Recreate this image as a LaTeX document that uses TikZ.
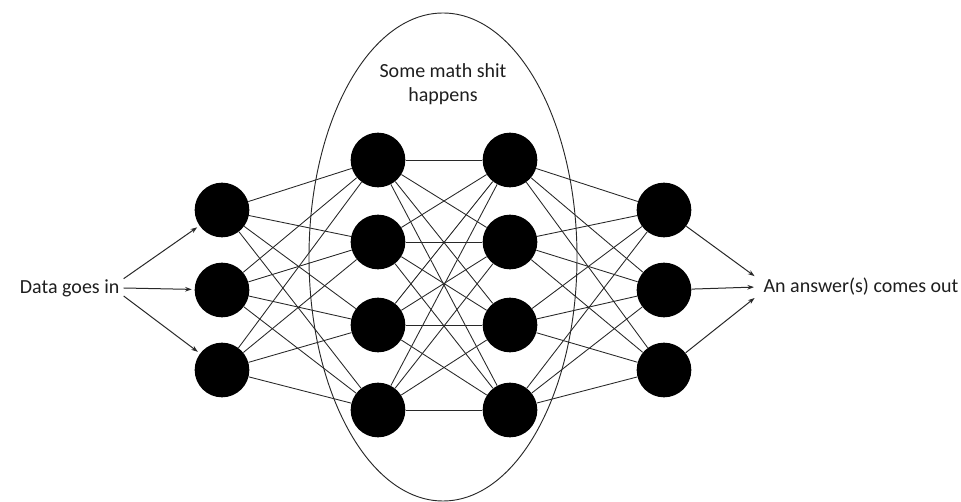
\documentclass[tikz,border=0pt]{standalone}
\usepackage{fontspec}
\setmainfont{Carlito}
\usetikzlibrary{positioning, arrows.meta}
\definecolor{linegray}{RGB}{40,40,40}
\definecolor{labeltext}{RGB}{30,30,30}

\begin{document}
\begin{tikzpicture}[
  x=0.75pt, y=-0.75pt,
  neuron/.style={circle, fill=black, minimum size=41pt, inner sep=0pt},
  label/.style={font=\fontsize{15}{18}\selectfont, text=labeltext, inner sep=1pt},
  wire/.style={draw=linegray, line width=0.65pt},
  feed/.style={draw=linegray, line width=0.75pt, -{Stealth[length=5pt, width=3.5pt]}, shorten >=2pt}
]
\useasboundingbox (0,0) rectangle (961,502);

% the big ellipse round the hidden layers
\draw[linegray, line width=0.7pt] (443,257) ellipse [x radius=134, y radius=244];

% layers
\foreach \y [count=\i] in {210,290,370} {
  \node[neuron] (in\i) at (222,\y) {};
  \node[neuron] (out\i) at (664,\y) {};
}
\foreach \y [count=\i] in {160,242,325,410} {
  \node[neuron] (ha\i) at (378,\y) {};
  \node[neuron] (hb\i) at (510,\y) {};
}

% connections
\foreach \i in {1,2,3}
  \foreach \j in {1,...,4}
    \draw[wire] (in\i) -- (ha\j);
\foreach \i in {1,...,4}
  \foreach \j in {1,...,4}
    \draw[wire] (ha\i) -- (hb\j);
\foreach \i in {1,...,4}
  \foreach \j in {1,2,3}
    \draw[wire] (hb\i) -- (out\j);

% texts
\node[label, anchor=east] (datain) at (121,288) {Data goes in};
\node[label, align=center] (mathtext) at (443,84) {Some math shit\\happens};
\node[label, anchor=west] (answer) at (762,287) {An answer(s) comes out};

\draw[feed] ([xshift=2pt, yshift=7pt]datain.east) -- (in1);
\draw[feed] ([xshift=2pt]datain.east) -- (in2);
\draw[feed] ([xshift=2pt, yshift=-6pt]datain.east) -- (in3);

\draw[feed] (out1) -- ([xshift=-4pt, yshift=7pt]answer.west);
\draw[feed] (out2) -- ([xshift=-4pt]answer.west);
\draw[feed] (out3) -- ([xshift=-4pt, yshift=-7pt]answer.west);

\end{tikzpicture}
\end{document}
